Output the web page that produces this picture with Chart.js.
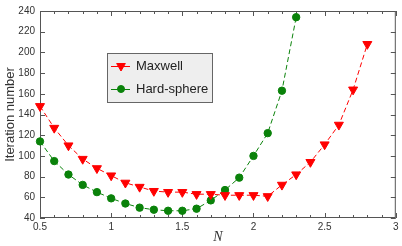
<!DOCTYPE html>
<html>
<head>
<meta charset="utf-8">
<script src="https://cdn.jsdelivr.net/npm/chart.js@4"></script>
<style>
  html, body { margin: 0; padding: 0; background: #fff; }
  #wrap { width: 402px; height: 246px; }
</style>
</head>
<body>
<div id="wrap"><canvas id="chart" width="402" height="246"></canvas></div>
<script>
// values
const maxwellN = [0.5, 0.6, 0.7, 0.8, 0.9, 1.0, 1.1, 1.2, 1.3, 1.4, 1.5, 1.6, 1.7, 1.8, 1.9, 2.0, 2.1, 2.2, 2.3, 2.4, 2.5, 2.6, 2.7, 2.8];
const maxwellIter = [148, 127, 110, 97, 88, 81, 74, 70, 66, 65, 65, 63, 63, 62, 62, 62, 61, 72, 82, 94, 111, 130, 164, 208];
const hardN = [0.5, 0.6, 0.7, 0.8, 0.9, 1.0, 1.1, 1.2, 1.3, 1.4, 1.5, 1.6, 1.7, 1.8, 1.9, 2.0, 2.1, 2.2, 2.3];
const hardIter = [114, 95, 82, 72, 65, 59, 54, 50, 48, 47, 47, 49, 57, 67, 79, 100, 122, 163, 234];
const xTicks = [0.5, 1, 1.5, 2, 2.5, 3];
const yTicks = [40, 60, 80, 100, 120, 140, 160, 180, 200, 220, 240];

const RED = '#ff0000';
const GREEN = '#0a820a';

function pts(xs, ys) {
  return xs.map((x, i) => ({ x: x, y: ys[i] }));
}

// box frame with inward ticks on all four sides
const frame = {
  id: 'frame',
  beforeDatasetsDraw(chart) {
    const ctx = chart.ctx;
    const a = chart.chartArea;
    const xs = chart.scales.x;
    const ys = chart.scales.y;
    ctx.save();
    ctx.strokeStyle = '#555';
    ctx.lineWidth = 1;
    ctx.strokeRect(a.left + 0.5, a.top + 0.5, a.right - a.left - 1, a.bottom - a.top - 1);
    ctx.beginPath();
    for (let v = 0.5; v <= 3.0001; v += 0.1) {
      const major = Math.abs(v * 2 - Math.round(v * 2)) < 1e-6;
      const len = major ? 5 : 3;
      const px = Math.round(xs.getPixelForValue(v)) + 0.5;
      ctx.moveTo(px, a.bottom);
      ctx.lineTo(px, a.bottom - len);
      ctx.moveTo(px, a.top);
      ctx.lineTo(px, a.top + len);
    }
    yTicks.forEach(v => {
      const py = Math.round(ys.getPixelForValue(v)) + 0.5;
      ctx.moveTo(a.left, py);
      ctx.lineTo(a.left + 5, py);
      ctx.moveTo(a.right, py);
      ctx.lineTo(a.right - 5, py);
    });
    ctx.stroke();
    ctx.restore();
  }
};

// legend box inside the plot
const boxLegend = {
  id: 'boxLegend',
  afterDraw(chart) {
    const ctx = chart.ctx;
    const bx = 107, by = 53, bw = 105, bh = 49;
    ctx.save();
    ctx.fillStyle = '#eeeeee';
    ctx.fillRect(bx, by, bw, bh);
    ctx.strokeStyle = '#666';
    ctx.lineWidth = 1;
    ctx.strokeRect(bx + 0.5, by + 0.5, bw, bh);
    chart.data.datasets.forEach((ds, i) => {
      const cy = by + 13 + i * 23;
      ctx.strokeStyle = ds.borderColor;
      ctx.lineWidth = 1;
      ctx.beginPath();
      ctx.moveTo(bx + 4, cy + 0.5);
      ctx.lineTo(bx + 23, cy + 0.5);
      ctx.stroke();
      ctx.fillStyle = ds.pointBackgroundColor;
      ctx.strokeStyle = ds.pointBorderColor;
      Chart.helpers.drawPoint(ctx, {
        pointStyle: ds.pointStyle,
        rotation: ds.pointRotation || 0,
        radius: ds.pointStyle === 'triangle' ? 5 : 3.5,
        borderWidth: 1
      }, bx + 14, cy);
      ctx.fillStyle = '#222';
      ctx.font = '13px "Liberation Sans", Arial, sans-serif';
      ctx.textBaseline = 'middle';
      ctx.textAlign = 'left';
      ctx.fillText(ds.label, bx + 29, cy);
    });
    ctx.restore();
  }
};

new Chart(document.getElementById('chart'), {
  type: 'scatter',
  data: {
    datasets: [
      {
        label: 'Maxwell',
        data: pts(maxwellN, maxwellIter),
        showLine: true,
        clip: false,
        borderColor: RED,
        borderWidth: 1,
        borderDash: [5, 3],
        pointStyle: 'triangle',
        pointRotation: 180,
        pointRadius: 5.2,
        pointBackgroundColor: RED,
        pointBorderColor: RED,
        pointBorderWidth: 1
      },
      {
        label: 'Hard-sphere',
        data: pts(hardN, hardIter),
        showLine: true,
        clip: false,
        borderColor: GREEN,
        borderWidth: 1,
        borderDash: [5, 3],
        pointStyle: 'circle',
        pointRadius: 3.7,
        pointBackgroundColor: GREEN,
        pointBorderColor: GREEN,
        pointBorderWidth: 1
      }
    ]
  },
  options: {
    responsive: false,
    animation: false,
    layout: { padding: { top: 7, right: 3, left: 0, bottom: 0 } },
    plugins: {
      legend: { display: false },
      tooltip: { enabled: false }
    },
    scales: {
      x: {
        type: 'linear',
        min: 0.5,
        max: 3,
        afterBuildTicks: s => { s.ticks = xTicks.map(v => ({ value: v })); },
        afterFit: s => { s.height = 28; },
        grid: { display: false, drawTicks: false },
        border: { display: false },
        ticks: {
          padding: 3,
          color: '#333',
          font: { family: '"Liberation Sans", Arial, sans-serif', size: 10 },
          maxRotation: 0,
          callback: v => String(v)
        },
        title: {
          display: true,
          text: 'N',
          color: '#333',
          padding: { top: 2, bottom: 0 },
          font: { family: '"Liberation Serif", "Times New Roman", serif', size: 14, style: 'italic' }
        }
      },
      y: {
        type: 'linear',
        min: 40,
        max: 240,
        afterBuildTicks: s => { s.ticks = yTicks.map(v => ({ value: v })); },
        afterFit: s => { s.width = 40; },
        grid: { display: false, drawTicks: false },
        border: { display: false },
        ticks: {
          padding: 5,
          color: '#333',
          font: { family: '"Liberation Sans", Arial, sans-serif', size: 10 }
        },
        title: {
          display: true,
          text: 'Iteration number',
          color: '#333',
          padding: { top: 3, bottom: 2 },
          font: { family: '"Liberation Sans", Arial, sans-serif', size: 13 }
        }
      }
    }
  },
  plugins: [frame, boxLegend]
});
</script>
</body>
</html>
